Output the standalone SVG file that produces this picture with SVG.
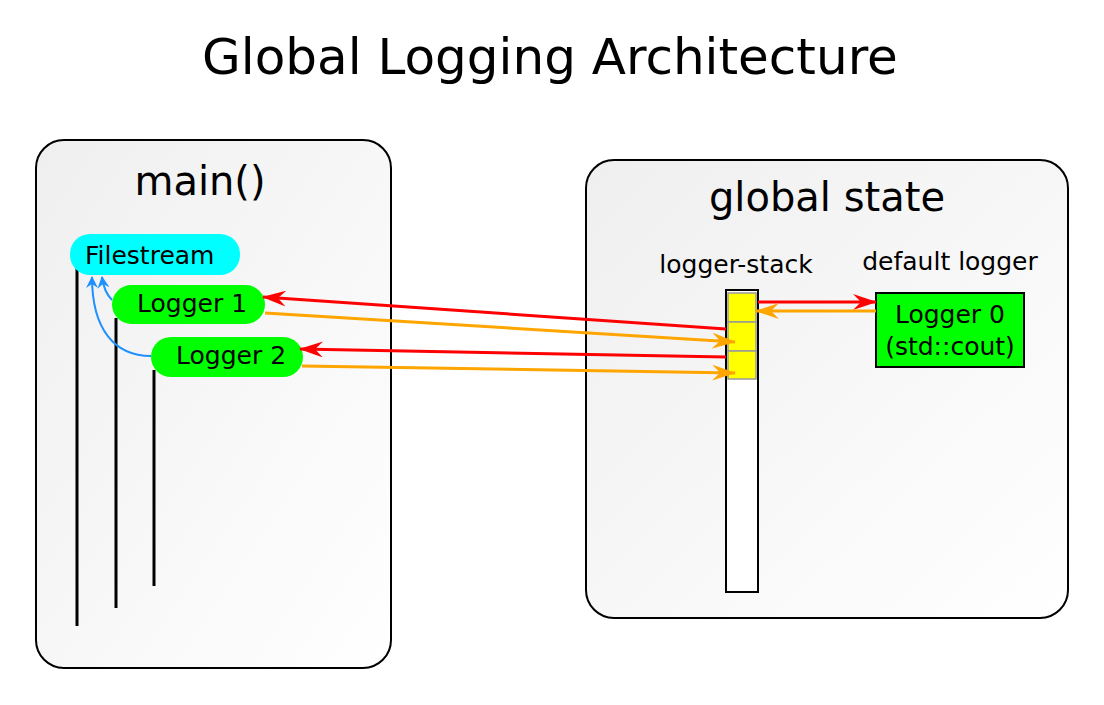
<svg xmlns="http://www.w3.org/2000/svg" width="1104" height="705" viewBox="0 0 1104 705">
<style>
text{font-family:"DejaVu Sans","Liberation Sans",sans-serif;fill:#000}
.panel{stroke:#000;stroke-width:2;fill:url(#pg)}
.life{stroke:#000;stroke-width:3;fill:none}
.red{stroke:#f00;stroke-width:3;fill:none;marker-end:url(#mr)}
.org{stroke:#ffa500;stroke-width:3;fill:none;marker-end:url(#mo)}
.blue{stroke:#1e90ff;stroke-width:2;fill:none;marker-end:url(#mb)}
.cell{fill:#ff0;stroke:#999;stroke-width:1.5}
.t24{font-size:25px}
</style>
<defs>
<linearGradient id="pg" x1="0" y1="0" x2="1" y2="1">
<stop offset="0" stop-color="#efefef"/>
<stop offset="1" stop-color="#ffffff"/>
</linearGradient>
<marker id="mr" viewBox="0 0 24 16" refX="23" refY="8" markerWidth="24" markerHeight="16" markerUnits="userSpaceOnUse" orient="auto">
<path d="M0,0 L24,8 L0,16 L8,8 Z" fill="#f00"/>
</marker>
<marker id="mo" viewBox="0 0 24 16" refX="23" refY="8" markerWidth="24" markerHeight="16" markerUnits="userSpaceOnUse" orient="auto">
<path d="M0,0 L24,8 L0,16 L8,8 Z" fill="#ffa500"/>
</marker>
<marker id="mb" viewBox="0 0 12 12" refX="11" refY="6" markerWidth="12" markerHeight="12" markerUnits="userSpaceOnUse" orient="auto">
<path d="M0,0 L12,6 L0,12 L4,6 Z" fill="#1e90ff"/>
</marker>
</defs>
<rect width="1104" height="705" fill="#fff"/>
<text x="550" y="74" font-size="50" text-anchor="middle">Global Logging Architecture</text>

<g id="main-panel">
<rect class="panel" x="36" y="140" width="355" height="528" rx="28"/>
<text x="200" y="195" font-size="40" text-anchor="middle">main()</text>
</g>
<g id="global-panel">
<rect class="panel" x="586" y="160" width="482" height="458" rx="28"/>
<text x="827" y="211" font-size="40" text-anchor="middle">global state</text>
<text class="t24" x="736" y="273" text-anchor="middle">logger-stack</text>
<text class="t24" x="950" y="270" text-anchor="middle">default logger</text>
</g>

<g id="lifelines">
<line class="life" x1="77" y1="268" x2="77" y2="626"/>
<line class="life" x1="116" y1="318" x2="116" y2="608"/>
<line class="life" x1="154" y1="370" x2="154" y2="586"/>
</g>

<g id="filestream">
<rect x="70" y="234" width="170" height="41" rx="20" fill="#0ff"/>
<text class="t24" x="85" y="264">Filestream</text>
</g>
<g id="logger1">
<rect x="112" y="285" width="153" height="39" rx="19.5" fill="#0f0"/>
<text class="t24" x="137" y="312">Logger 1</text>
</g>
<g id="logger2">
<rect x="151" y="337" width="152" height="40" rx="20" fill="#0f0"/>
<text class="t24" x="176" y="364">Logger 2</text>
</g>

<g id="logger-stack">
<rect x="726" y="290" width="32" height="302" fill="#fff" stroke="#000" stroke-width="2"/>
<rect class="cell" x="728" y="293" width="28" height="29"/>
<rect class="cell" x="728" y="322" width="28" height="29"/>
<rect class="cell" x="728" y="351" width="28" height="28"/>
</g>

<g id="logger0">
<rect x="876" y="293" width="148" height="74" fill="#0f0" stroke="#000" stroke-width="2"/>
<text class="t24" x="950" y="323" text-anchor="middle">Logger 0</text>
<text class="t24" x="950" y="355" text-anchor="middle">(std::cout)</text>
</g>

<g id="connectors">
<path class="blue" d="M112,300 Q104,292 102,277"/>
<path class="blue" d="M151,356 C115,356 92,330 92,277"/>
<path class="red" d="M726,329 L263,297"/>
<path class="org" d="M265,313 L735,342"/>
<path class="red" d="M726,357 L300,349"/>
<path class="org" d="M302,366 L735,373"/>
<path class="red" d="M758,302 L876,302"/>
<path class="org" d="M876,311 L756,311"/>
</g>
</svg>
